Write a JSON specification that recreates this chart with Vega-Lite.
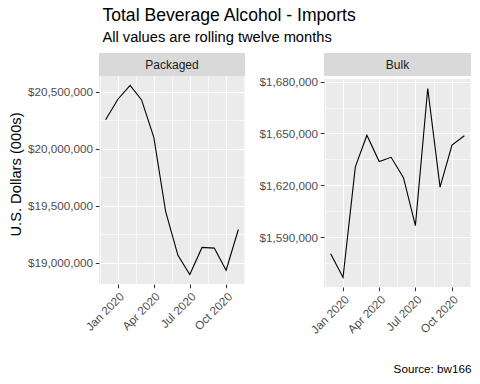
{
  "$schema": "https://vega.github.io/schema/vega-lite/v6.json",
  "padding": {"left": 8, "top": 6, "right": 8, "bottom": 6},
  "background": "white",
  "config": {
    "font": "Liberation Sans",
    "view": {"stroke": null},
    "concat": {"spacing": 5},
    "axis": {
      "domain": false,
      "labelFont": "Liberation Sans",
      "labelFontSize": 11.7,
      "labelColor": "#4d4d4d",
      "labelOverlap": false,
      "tickColor": "#333333",
      "tickSize": 3.7,
      "tickWidth": 1.07,
      "labelPadding": 2.9,
      "gridColor": "white",
      "titleFont": "Liberation Sans",
      "titleFontWeight": "normal",
      "titleFontSize": 14.7,
      "titleColor": "black"
    },
    "title": {"font": "Liberation Sans", "fontWeight": "normal", "color": "black"}
  },
  "title": {
    "text": "Total Beverage Alcohol - Imports",
    "subtitle": "All values are rolling twelve months",
    "anchor": "start",
    "frame": "bounds",
    "dx": 94,
    "fontSize": 17.6,
    "subtitleFontSize": 14.7,
    "subtitleColor": "black",
    "subtitleFont": "Liberation Sans",
    "subtitlePadding": 6,
    "offset": 8
  },
  "datasets": {
    "imports": [
      {"month": "2019-12-01", "type": "Packaged", "value": 20256000},
      {"month": "2020-01-01", "type": "Packaged", "value": 20436000},
      {"month": "2020-02-01", "type": "Packaged", "value": 20557000},
      {"month": "2020-03-01", "type": "Packaged", "value": 20430000},
      {"month": "2020-04-01", "type": "Packaged", "value": 20102000},
      {"month": "2020-05-01", "type": "Packaged", "value": 19449000},
      {"month": "2020-06-01", "type": "Packaged", "value": 19066000},
      {"month": "2020-07-01", "type": "Packaged", "value": 18898000},
      {"month": "2020-08-01", "type": "Packaged", "value": 19136000},
      {"month": "2020-09-01", "type": "Packaged", "value": 19130000},
      {"month": "2020-10-01", "type": "Packaged", "value": 18936000},
      {"month": "2020-11-01", "type": "Packaged", "value": 19293000},
      {"month": "2019-12-01", "type": "Bulk", "value": 1580500},
      {"month": "2020-01-01", "type": "Bulk", "value": 1566700},
      {"month": "2020-02-01", "type": "Bulk", "value": 1630700},
      {"month": "2020-03-01", "type": "Bulk", "value": 1649000},
      {"month": "2020-04-01", "type": "Bulk", "value": 1633800},
      {"month": "2020-05-01", "type": "Bulk", "value": 1636200},
      {"month": "2020-06-01", "type": "Bulk", "value": 1624400},
      {"month": "2020-07-01", "type": "Bulk", "value": 1596700},
      {"month": "2020-08-01", "type": "Bulk", "value": 1676000},
      {"month": "2020-09-01", "type": "Bulk", "value": 1619000},
      {"month": "2020-10-01", "type": "Bulk", "value": 1643300},
      {"month": "2020-11-01", "type": "Bulk", "value": 1648700}
    ]
  },
  "vconcat": [
    {
      "title": {"text": "Source: bw166", "orient": "bottom", "anchor": "end", "frame": "bounds", "dx": -7, "fontSize": 11.7, "offset": 28},
      "hconcat": [
        {
          "spacing": 0,
          "vconcat": [
            {
              "width": 146,
              "height": 23,
              "data": {"values": [{"panel": "Packaged"}]},
              "mark": {"type": "text", "fontSize": 12, "color": "#1a1a1a", "font": "Liberation Sans"},
              "encoding": {"text": {"field": "panel"}},
              "view": {"fill": "#d9d9d9", "stroke": null}
            },
            {
              "width": 146,
              "height": 208,
              "data": {"name": "imports"},
              "transform": [{"filter": "datum.type == 'Packaged'"}],
              "mark": {"type": "line", "color": "black", "strokeWidth": 1.1},
              "view": {"fill": "#ebebeb", "stroke": null},
              "encoding": {
                "x": {
                  "field": "month", "type": "temporal", "title": null,
                  "scale": {"type": "utc", "domain": [
                    {"year": 2019, "month": 11, "date": 14, "hours": 4, "minutes": 48, "utc": true},
                    {"year": 2020, "month": 11, "date": 17, "hours": 19, "minutes": 12, "utc": true}
                  ]},
                  "axis": {
                    "format": "%b %Y",
                    "labelAngle": -45,
                    "labelAlign": "right",
                    "labelBaseline": "top",
                    "values": [
                      {"year": 2019, "month": 11, "date": 16, "utc": true},
                      {"year": 2020, "month": 1, "date": 1, "utc": true},
                      {"year": 2020, "month": 2, "date": 15, "hours": 12, "utc": true},
                      {"year": 2020, "month": 4, "date": 1, "utc": true},
                      {"year": 2020, "month": 5, "date": 16, "hours": 12, "utc": true},
                      {"year": 2020, "month": 7, "date": 1, "utc": true},
                      {"year": 2020, "month": 8, "date": 16, "utc": true},
                      {"year": 2020, "month": 10, "date": 1, "utc": true},
                      {"year": 2020, "month": 11, "date": 16, "utc": true}
                    ],
                    "labelExpr": "utcmonth(datum.value) % 3 == 0 ? datum.label : ''",
                    "tickOpacity": {"condition": {"test": "utcmonth(datum.value) % 3 != 0", "value": 0}, "value": 1},
                    "gridWidth": {"condition": {"test": "utcmonth(datum.value) % 3 != 0", "value": 0.6}, "value": 1.1}
                  }
                },
                "y": {
                  "field": "value", "type": "quantitative",
                  "title": "U.S. Dollars (000s)",
                  "scale": {"domain": [18815000, 20640000], "zero": false, "nice": false},
                  "axis": {
                    "format": "$,.0f",
                    "titlePadding": 4,
                    "titleY": 98,
                    "values": [19000000, 19250000, 19500000, 19750000, 20000000, 20250000, 20500000],
                    "labelExpr": "datum.value % 500000 == 0 ? datum.label : ''",
                    "tickOpacity": {"condition": {"test": "datum.value % 500000 != 0", "value": 0}, "value": 1},
                    "gridWidth": {"condition": {"test": "datum.value % 500000 != 0", "value": 0.6}, "value": 1.1}
                  }
                }
              }
            }
          ]
        },
        {
          "spacing": 0,
          "vconcat": [
            {
              "width": 147,
              "height": 23,
              "data": {"values": [{"panel": "Bulk"}]},
              "mark": {"type": "text", "fontSize": 12, "color": "#1a1a1a", "font": "Liberation Sans"},
              "encoding": {"text": {"field": "panel"}},
              "view": {"fill": "#d9d9d9", "stroke": null}
            },
            {
              "width": 147,
              "height": 208,
              "data": {"name": "imports"},
              "transform": [{"filter": "datum.type == 'Bulk'"}],
              "mark": {"type": "line", "color": "black", "strokeWidth": 1.1},
              "view": {"fill": "#ebebeb", "stroke": null},
              "encoding": {
                "x": {
                  "field": "month", "type": "temporal", "title": null,
                  "scale": {"type": "utc", "domain": [
                    {"year": 2019, "month": 11, "date": 14, "hours": 4, "minutes": 48, "utc": true},
                    {"year": 2020, "month": 11, "date": 17, "hours": 19, "minutes": 12, "utc": true}
                  ]},
                  "axis": {
                    "format": "%b %Y",
                    "labelAngle": -45,
                    "labelAlign": "right",
                    "labelBaseline": "top",
                    "values": [
                      {"year": 2019, "month": 11, "date": 16, "utc": true},
                      {"year": 2020, "month": 1, "date": 1, "utc": true},
                      {"year": 2020, "month": 2, "date": 15, "hours": 12, "utc": true},
                      {"year": 2020, "month": 4, "date": 1, "utc": true},
                      {"year": 2020, "month": 5, "date": 16, "hours": 12, "utc": true},
                      {"year": 2020, "month": 7, "date": 1, "utc": true},
                      {"year": 2020, "month": 8, "date": 16, "utc": true},
                      {"year": 2020, "month": 10, "date": 1, "utc": true},
                      {"year": 2020, "month": 11, "date": 16, "utc": true}
                    ],
                    "labelExpr": "utcmonth(datum.value) % 3 == 0 ? datum.label : ''",
                    "tickOpacity": {"condition": {"test": "utcmonth(datum.value) % 3 != 0", "value": 0}, "value": 1},
                    "gridWidth": {"condition": {"test": "utcmonth(datum.value) % 3 != 0", "value": 0.6}, "value": 1.1}
                  }
                },
                "y": {
                  "field": "value", "type": "quantitative",
                  "title": null,
                  "scale": {"domain": [1561200, 1681500], "zero": false, "nice": false},
                  "axis": {
                    "format": "$,.0f",
                    "values": [1575000, 1590000, 1605000, 1620000, 1635000, 1650000, 1665000, 1680000],
                    "labelExpr": "datum.value % 30000 == 0 ? datum.label : ''",
                    "tickOpacity": {"condition": {"test": "datum.value % 30000 != 0", "value": 0}, "value": 1},
                    "gridWidth": {"condition": {"test": "datum.value % 30000 != 0", "value": 0.6}, "value": 1.1}
                  }
                }
              }
            }
          ]
        }
      ]
    }
  ]
}
